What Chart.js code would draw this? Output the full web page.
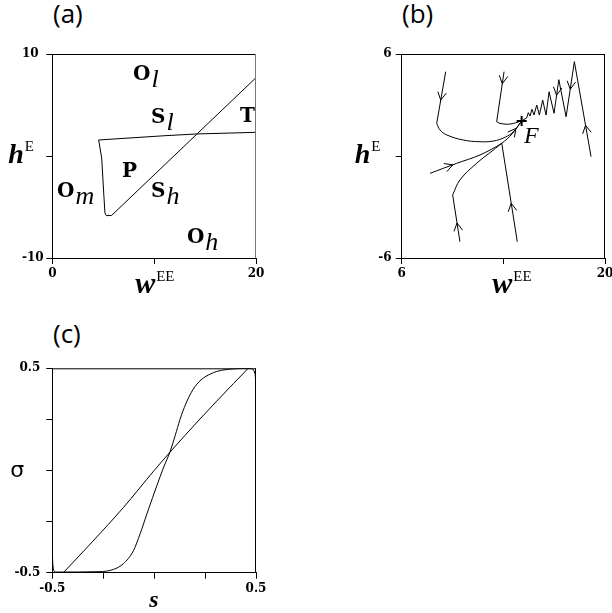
<!DOCTYPE html>
<html>
<head>
<meta charset="utf-8">
<script src="https://cdn.jsdelivr.net/npm/chart.js@4.4.1/dist/chart.umd.min.js"></script>
<style>
html, body { margin: 0; padding: 0; background: #fff; }
#page { position: relative; width: 612px; height: 613px; overflow: hidden; }
canvas { position: absolute; }
.tag { position: absolute; font-family: "Open Sans"; font-size: 26px; line-height: 26px; color: #000; }
</style>
</head>
<body>
<div id="page">
  <div class="tag" style="left:53px;top:0px">(a)</div>
  <div class="tag" style="left:402px;top:0px">(b)</div>
  <div class="tag" style="left:53px;top:320px">(c)</div>
  <canvas id="chartA" width="280" height="270" style="left:0;top:40px"></canvas>
  <canvas id="chartB" width="290" height="270" style="left:330px;top:40px"></canvas>
  <canvas id="chartC" width="280" height="258" style="left:0;top:355px"></canvas>
</div>
<script>
// (a) region boundaries in the (wEE, hE) plane
const aLeftEdge = [[4.55,1.57],[4.85,-0.2],[5.07,-4.0],[5.17,-5.6],[5.3,-5.85],[5.83,-5.82],[20,7.68]];
const aUpperEdge = [[4.55,1.57],[11.07,1.99],[14.17,2.16],[20,2.32]];
const aRegions = [['O','l',7.92,7.45],['S','l',9.69,3.24],['T','',18.42,3.33],['P','',6.84,-2.06],
                  ['O','m',0.46,-4.02],['S','h',9.69,-4.02],['O','h',13.22,-8.53]];
const aTicksX = [0, 10, 20], aLabelsX = ['0', '', '20'];
const aTicksY = [-10, 0, 10], aLabelsY = ['-10', '', '10'];

// (b) trajectories running into the fixed point F
const bFixed = [14.26, 2.06];
const bTraj1 = [[9.03,4.96],[8.41,1.92]];
const bTraj1Curve = [[8.41,1.92],[8.64,1.53],[9.1,1.24],[10.24,0.94],[11.39,0.84],[12.31,0.88],[13.11,1.1],[13.69,1.43],[14.26,2.06]];
const bTraj2 = [[13.05,4.96],[12.54,2.02]];
const bTraj2Curve = [[12.54,2.02],[12.77,1.92],[13.46,1.88],[14.26,2.06]];
const bTraj3 = [[7.95,-1.02],[9.79,-0.43],[11.39,0.06],[12.89,0.75],[13.6,1.3],[14.26,2.06]];
const bTraj4 = [[10.01,-5.04],[9.51,-2.29]];
const bTraj4Curve = [[9.51,-2.29],[10.01,-1.41],[11.16,-0.43],[12.31,0.35],[12.89,0.75]];
const bTraj5 = [[13.96,-5.04],[12.89,0.75]];
const bTraj6 = [[19.04,-0.04],[17.89,5.55],[17.32,2.31],[16.82,4.49],[16.49,2.51],[16.15,3.78],[15.94,2.41],
                [15.71,3.29],[15.48,2.41],[15.3,3.0],[15.11,2.41],[14.97,2.75],[14.84,2.35],[14.72,2.55],[14.61,2.25],[14.26,2.06]];
// arrow heads: [trajectory, segment, position along segment]
const bArrows = [['t1',0,0.55],['t1c',7,0.3],['t2',0,0.24],['t3',0,0.85],['t4',0,0.4],['t5',0,0.39],
                 ['t6',0,0.33],['t6',1,0.5],['t6',3,0.46]];
const bTicksX = [6, 13, 20], bLabelsX = ['6', '', '20'];
const bTicksY = [-6, 0, 6], bLabelsY = ['-6', '', '6'];

// (c) sigmoid curves sigma(s)
const cSteep = [[-0.487,-0.497],[-0.27,-0.495],[-0.2,-0.484],[-0.151,-0.456],[-0.102,-0.393],[-0.069,-0.31],
                [-0.029,-0.193],[0.013,-0.075],[0.045,0.012],[0.078,0.092],[0.103,0.17],[0.127,0.25],
                [0.155,0.325],[0.19,0.395],[0.23,0.443],[0.28,0.474],[0.33,0.49],[0.4,0.498],[0.47,0.5]];
const cShallow = [[-0.446,-0.5],[-0.3,-0.345],[-0.15,-0.18],[0,0.0],[0.078,0.09],[0.225,0.252],[0.389,0.425],[0.462,0.5]];
const cEdgeLow = [[-0.5,-0.39],[-0.498,-0.45],[-0.495,-0.48],[-0.49,-0.495],[-0.484,-0.5]];
const cEdgeHigh = [[0.46,0.5],[0.48,0.498],[0.49,0.49],[0.496,0.47],[0.499,0.43],[0.5,0.38],[0.5,-0.5]];
const cTicks = [-0.5, -0.25, 0, 0.25, 0.5], cLabels = ['-0.5', '', '', '', '0.5'];

const tickFont = { family: 'DejaVu Serif', size: 12, weight: 'bold' };

function pts(arr) { return arr.map(p => ({ x: p[0], y: p[1] })); }

function line(label, arr, tension, mono) {
  return { label, data: pts(arr), showLine: true, borderColor: '#000', borderWidth: 1,
           pointRadius: 0, tension: tension || 0, fill: false,
           cubicInterpolationMode: mono ? 'monotone' : 'default' };
}

function axis(min, max, ticks, labels, size, pad, crossAlign) {
  return {
    type: 'linear', min, max,
    afterBuildTicks: a => { a.ticks = ticks.map(v => ({ value: v })); },
    afterFit: a => { if (a.isHorizontal()) a.height = size; else a.width = size; },
    ticks: { callback: v => labels[ticks.indexOf(v)] ?? '', color: '#000', font: tickFont,
             padding: pad, crossAlign: crossAlign || 'near', autoSkip: false, maxRotation: 0 },
    grid: { drawOnChartArea: false, tickLength: 6, tickColor: '#000', tickWidth: 1 },
    border: { color: '#000', width: 1 }
  };
}

// draws a row of text pieces (main text, super/subscripts)
function pieces(ctx, list, x, y) {
  list.forEach(p => {
    ctx.font = p.font;
    ctx.fillText(p.t, x, y + (p.dy || 0));
    x += ctx.measureText(p.t).width + (p.gap || 0);
  });
}

const decor = {
  id: 'decor',
  afterDatasetsDraw(chart, args, o) {
    const { ctx, chartArea: ca } = chart;
    const sx = chart.scales.x, sy = chart.scales.y;
    ctx.save();
    ctx.lineWidth = 1;
    ctx.strokeStyle = '#000';
    ctx.beginPath(); ctx.moveTo(ca.left, ca.top + 0.5); ctx.lineTo(ca.right, ca.top + 0.5); ctx.stroke();
    ctx.strokeStyle = o.rightColor || '#000';
    ctx.beginPath(); ctx.moveTo(ca.right - 0.5, ca.top); ctx.lineTo(ca.right - 0.5, ca.bottom); ctx.stroke();

    // open arrow heads along trajectories
    ctx.strokeStyle = '#000';
    (o.arrows || []).forEach(([name, seg, t]) => {
      const ds = chart.data.datasets.find(d => d.label === name);
      const a = ds.data[seg], b = ds.data[seg + 1];
      const x0 = sx.getPixelForValue(a.x), y0 = sy.getPixelForValue(a.y);
      const x1 = sx.getPixelForValue(b.x), y1 = sy.getPixelForValue(b.y);
      const px = x0 + (x1 - x0) * t, py = y0 + (y1 - y0) * t;
      const ang = Math.atan2(y1 - y0, x1 - x0);
      const len = 9, spread = 0.5;
      ctx.beginPath();
      ctx.moveTo(px - len * Math.cos(ang - spread), py - len * Math.sin(ang - spread));
      ctx.lineTo(px, py);
      ctx.lineTo(px - len * Math.cos(ang + spread), py - len * Math.sin(ang + spread));
      ctx.stroke();
    });

    ctx.fillStyle = '#000';
    ctx.textBaseline = 'alphabetic';
    ctx.textAlign = 'left';
    (o.notes || []).forEach(n => {
      const x = sx.getPixelForValue(n.x), y = sy.getPixelForValue(n.y);
      pieces(ctx, n.parts, x, y);
    });
    if (o.yTitle) pieces(ctx, o.yTitle.parts, ca.left + o.yTitle.dx, (ca.top + ca.bottom) / 2 + o.yTitle.dy);
    if (o.xTitle) pieces(ctx, o.xTitle.parts, (ca.left + ca.right) / 2 + o.xTitle.dx, ca.bottom + o.xTitle.dy);
    ctx.restore();
  }
};
Chart.register(decor);

const bold = '20px "DejaVu Serif"';
const subFont = 'italic 26px "Liberation Serif"';
const hTitle = [{ t: 'h', font: 'italic bold 28px "Liberation Serif"', gap: 1 }, { t: 'E', font: '15px "Liberation Serif"', dy: -12 }];
const wTitle = [{ t: 'w', font: 'italic bold 30px "Liberation Serif"', gap: 1 }, { t: 'EE', font: '15px "Liberation Serif"', dy: -12 }];

function base(padding, decorOpts, scales) {
  return {
    responsive: false, animation: false, devicePixelRatio: 1,
    layout: { padding },
    plugins: { legend: { display: false }, tooltip: { enabled: false }, decor: decorOpts },
    scales
  };
}

// panel (a)
new Chart(document.getElementById('chartA'), {
  type: 'scatter',
  data: { datasets: [line('left', aLeftEdge), line('upper', aUpperEdge)] },
  options: base({ left: 22, top: 14, right: 24, bottom: 22 }, {
    rightColor: '#777',
    notes: aRegions.map(r => ({ x: r[2], y: r[3], parts: [
      { t: r[0], font: 'bold ' + bold, gap: 1 }, { t: r[1], font: subFont, dy: 7 }] })),
    yTitle: { parts: hTitle, dx: -44, dy: 7 },
    xTitle: { parts: wTitle, dx: -19, dy: 35 }
  }, {
    x: axis(0, 20, aTicksX, aLabelsX, 30, 3),
    y: axis(-10, 10, aTicksY, aLabelsY, 30.3, 3, 'far')
  })
});

// panel (b)
new Chart(document.getElementById('chartB'), {
  type: 'scatter',
  data: { datasets: [
    line('t1', bTraj1), line('t1c', bTraj1Curve, 0.4),
    line('t2', bTraj2), line('t2c', bTraj2Curve, 0.4),
    line('t3', bTraj3, 0.3),
    line('t4', bTraj4), line('t4c', bTraj4Curve, 0.4),
    line('t5', bTraj5), line('t6', bTraj6),
    { label: 'F', data: pts([bFixed]), pointStyle: 'cross', pointRadius: 5, borderColor: '#000', borderWidth: 2 }
  ] },
  options: base({ left: 31.7, top: 14, right: 15, bottom: 22 }, {
    arrows: bArrows,
    notes: [{ x: 14.42, y: 0.76, parts: [{ t: 'F', font: 'italic 24px "Liberation Serif"' }] }],
    yTitle: { parts: hTitle, dx: -47, dy: 7 },
    xTitle: { parts: wTitle, dx: -11, dy: 35 }
  }, {
    x: axis(6, 20, bTicksX, bLabelsX, 30, 3),
    y: axis(-6, 6, bTicksY, bLabelsY, 40, 4)
  })
});

// panel (c)
new Chart(document.getElementById('chartC'), {
  type: 'scatter',
  data: { datasets: [
    line('steep', cSteep, 0.4, true), line('shallow', cShallow, 0.4, true),
    line('edgeLow', cEdgeLow, 0.3), line('edgeHigh', cEdgeHigh, 0)
  ] },
  options: base({ left: 5, top: 13.3, right: 24, bottom: 12.3 }, {
    yTitle: { parts: [{ t: 'σ', font: '22px "DejaVu Sans"' }], dx: -42, dy: 6.5 },
    xTitle: { parts: [{ t: 's', font: 'italic bold 24px "Liberation Serif"' }], dx: -5, dy: 34 }
  }, {
    x: axis(-0.5, 0.5, cTicks, cLabels, 28, 3),
    y: axis(-0.5, 0.5, cTicks, cLabels, 47.3, 6)
  })
});
</script>
</body>
</html>
